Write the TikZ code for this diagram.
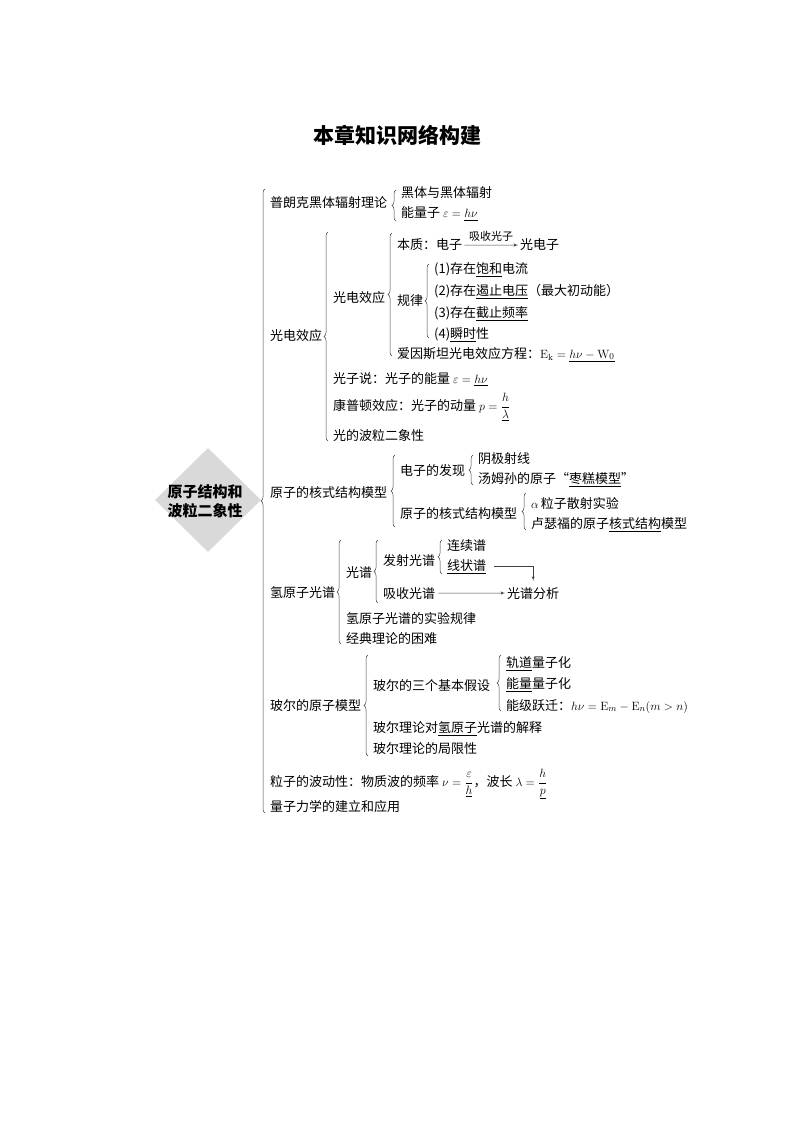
\documentclass[tikz,border=0pt]{standalone}
\usepackage{amsmath}
\usepackage{amssymb}
\usepackage[no-math]{fontspec}
\setmainfont{Noto Sans CJK SC}
\usepackage{tikz}
\usetikzlibrary{shapes,arrows,positioning,decorations.pathreplacing}
\usepackage{color}

\begin{document}
\begin{tikzpicture}[x=1pt, y=-1pt, >=latex',
	txt/.style={anchor=base west, inner sep=0pt, font=\fontsize{13}{15}\selectfont},
	lbl/.style={inner sep=1pt, font=\fontsize{11}{13}\selectfont},
	brc/.style={draw=black!75, line width=.5pt, decorate, decoration={brace, amplitude=4pt}},
	arr/.style={->, draw=black!75, line width=.5pt}]
	\useasboundingbox (0,0) rectangle (794,1123);
	%\draw[help lines, yellow] (0,0)grid[step=50](794,1123);
	% Title and the grey diamond
	\node [font=\fontsize{21}{24}\selectfont\bfseries] (ttl) at (397,135) {本章知识网络构建};
	\node [diamond, fill=black!15, minimum width=106, minimum height=104, inner sep=0pt] (core) at (208,500) {};
	\node [font=\fontsize{15}{19}\selectfont\bfseries, align=center] (coretxt) at (205,501) {原子结构和\\波粒二象性};
	% First level
	\node [txt] (pl) at (270,208) {普朗克黑体辐射理论};
	\node [txt] (gd) at (270,340) {光电效应};
	\node [txt] (hs) at (270,497) {原子的核式结构模型};
	\node [txt] (qy) at (270,597) {氢原子光谱};
	\node [txt] (be) at (270,710) {玻尔的原子模型};
	\node [txt] (lz) at (270,786) {粒子的波动性：物质波的频率 $\nu=\dfrac{\varepsilon}{\underline{h}}$，波长 $\lambda=\dfrac{h}{\underline{p}}$};
	\node [txt] (lzl) at (270,811) {量子力学的建立和应用};
	\draw [brc] ([xshift=-5pt]pl.west |- 0,813) -- ([xshift=-5pt]pl.west |- 0,189);
	% Planck
	\node [txt] (hb) at (401,198) {黑体与黑体辐射};
	\node [txt] (nlz) at (401,218) {能量子 $\varepsilon=\underline{h\nu}$};
	\draw [brc] ([xshift=-5pt]hb.west |- 0,221) -- ([xshift=-5pt]hb.west |- 0,190);
	% Photoelectric effect
	\node [txt] (gd2) at (333,302) {光电效应};
	\node [txt] (gzs) at (333,383) {光子说：光子的能量 $\varepsilon=\underline{h\nu}$};
	\node [txt] (kpd) at (333,410) {康普顿效应：光子的动量 $p=\dfrac{h}{\underline{\lambda}}$};
	\node [txt] (bl) at (333,440) {光的波粒二象性};
	\draw [brc] ([xshift=-5pt]gd2.west |- 0,441) -- ([xshift=-5pt]gd2.west |- 0,232);
	\node [txt] (bz) at (397,250) {本质：电子};
	\node [txt] (gdz) at (520,250) {光电子};
	\node [txt] (gl) at (397,305) {规律};
	\node [txt] (as) at (397,358) {爱因斯坦光电效应方程：$\mathrm{E_k}=\underline{h\nu-\mathrm{W}_0}$};
	\draw [brc] ([xshift=-5pt]bz.west |- 0,356) -- ([xshift=-5pt]bz.west |- 0,233);
	\draw [arr, shorten <=2pt, shorten >=2pt] (bz) -- node [lbl, above=2pt] {吸收光子} (gdz);
	\node [txt] (g1) at (434,273) {(1)存在\underline{饱和}电流};
	\node [txt] (g2) at (434,295) {(2)存在\underline{遏止电压}（最大初动能）};
	\node [txt] (g3) at (434,317) {(3)存在\underline{截止频率}};
	\node [txt] (g4) at (434,338) {(4)\underline{瞬时}性};
	\draw [brc] ([xshift=-5pt]g1.west |- 0,338) -- ([xshift=-5pt]g1.west |- 0,264);
	% Nuclear model of the atom
	\node [txt] (dz) at (400,475) {电子的发现};
	\node [txt] (hs2) at (400,518) {原子的核式结构模型};
	\draw [brc] ([xshift=-5pt]dz.west |- 0,527) -- ([xshift=-5pt]dz.west |- 0,455);
	\node [txt] (yj) at (478,463) {阴极射线};
	\node [txt] (tm) at (478,483) {汤姆孙的原子“\underline{枣糕模型}”};
	\draw [brc] ([xshift=-5pt]yj.west |- 0,485) -- ([xshift=-5pt]yj.west |- 0,455);
	\node [txt] (az) at (531,508) {$\alpha$\,粒子散射实验};
	\node [txt] (ls) at (531,528) {卢瑟福的原子\underline{核式结构}模型};
	\draw [brc] ([xshift=-5pt]az.west |- 0,530) -- ([xshift=-5pt]az.west |- 0,493);
	% Hydrogen spectrum
	\node [txt] (gp) at (346,577) {光谱};
	\node [txt] (sy) at (346,623) {氢原子光谱的实验规律};
	\node [txt] (jd) at (346,643) {经典理论的困难};
	\draw [brc] ([xshift=-5pt]gp.west |- 0,644) -- ([xshift=-5pt]gp.west |- 0,540);
	\node [txt] (fs) at (383,565) {发射光谱};
	\node [txt] (xs) at (383,598) {吸收光谱};
	\draw [brc] ([xshift=-5pt]fs.west |- 0,603) -- ([xshift=-5pt]fs.west |- 0,540);
	\node [txt] (lx) at (447,550) {连续谱};
	\node [txt] (xz) at (447,570) {\underline{线状谱}};
	\draw [brc] ([xshift=-5pt]lx.west |- 0,574) -- ([xshift=-5pt]lx.west |- 0,540);
	\node [txt] (gpfx) at (507,598) {光谱分析};
	\draw [arr, shorten <=3pt, shorten >=2pt] (xs) -- (gpfx);
	\draw [arr, shorten <=8pt, shorten >=6pt] (xz.east) -| (gpfx.north);
	% Bohr model
	\node [txt] (jb) at (373,690) {玻尔的三个基本假设};
	\node [txt] (js) at (373,732) {玻尔理论对\underline{氢原子}光谱的解释};
	\node [txt] (jx) at (373,753) {玻尔理论的局限性};
	\draw [brc] ([xshift=-5pt]jb.west |- 0,756) -- ([xshift=-5pt]jb.west |- 0,655);
	\node [txt] (gdl) at (506,667) {\underline{轨道}量子化};
	\node [txt] (nl) at (506,688) {\underline{能量}量子化};
	\node [txt] (nj) at (506,710) {能级跃迁：$h\nu=\mathrm{E}_m-\mathrm{E}_n(m>n)$};
	\draw [brc] ([xshift=-5pt]gdl.west |- 0,711) -- ([xshift=-5pt]gdl.west |- 0,655);
\end{tikzpicture}
\end{document}
